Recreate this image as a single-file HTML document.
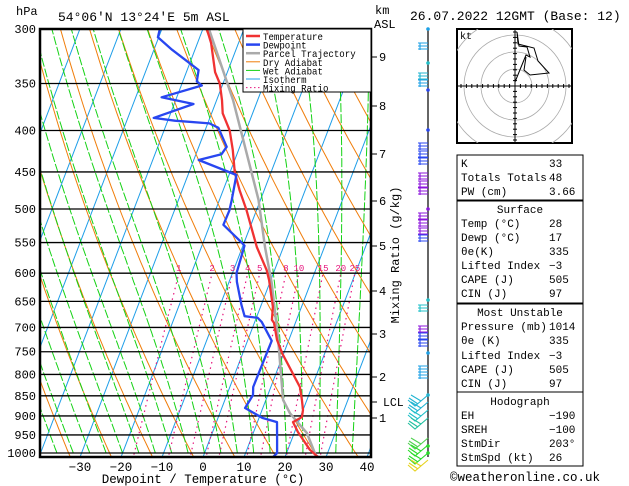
<!DOCTYPE html>
<html><head><meta charset="utf-8"><style>
html,body{margin:0;padding:0;background:#fff;}
svg{display:block;font-family:"Liberation Mono",monospace;}
</style></head><body>
<svg id="chart" width="629" height="486" viewBox="0 0 629 486">
<defs><clipPath id="plotclip"><rect x="40" y="29" width="331" height="428"/></clipPath></defs>
<g id="bg" clip-path="url(#plotclip)"></g>
<g id="plines"></g>
<g id="profiles" clip-path="url(#plotclip)"></g>
<rect x="40" y="29" width="331" height="428" fill="none" stroke="#000" stroke-width="2.5"/>
<text x="16" y="15" font-size="12">hPa</text>
<text x="58" y="21" font-size="13">54°06'N 13°24'E 5m ASL</text>
<text x="375" y="14" font-size="12">km</text>
<text x="374" y="28" font-size="12">ASL</text>
<text x="410" y="20" font-size="13">26.07.2022 12GMT (Base: 12)</text>
<text x="203" y="483" font-size="12.5" text-anchor="middle">Dewpoint / Temperature (°C)</text>
<text transform="translate(399,255) rotate(-90)" font-size="12" text-anchor="middle">Mixing Ratio (g/kg)</text>
<g id="axes"></g>
<g id="legend">
<rect x="243" y="29" width="128" height="63" fill="#fff" stroke="#000" stroke-width="1"/>
</g>
<g id="barbs"></g>
<g id="hodo"></g>
<g id="tables"></g>
<text x="450" y="481" font-size="12.5">©weatheronline.co.uk</text>
</svg>
<script>
// ---- data ----
const tempP = [300,312,339,350,367,381,400,423,451,474,502,557,595,612,660,685,691,725,753,829,860,885,903,916,942,991,1011];
const tempT = [-39.0,-36.7,-33.0,-30.8,-28.7,-27.3,-24.0,-21.4,-18.8,-16.0,-12.4,-6.5,-1.9,-0.4,3.0,4.0,4.8,7.1,9.6,17.1,18.8,20.0,20.4,18.7,20.8,25.4,28.0];
const dewP = [300,307,318,337,348,352,364,371,386,389,392,397,419,428,435,454,487,502,523,550,555,600,615,657,678,681,689,727,829,848,880,905,916,964,1000,1011];
const dewT = [-50.5,-50.2,-45.6,-37.2,-36.6,-35.0,-43.7,-35.3,-43.7,-38.3,-29.6,-27.0,-23.2,-23.8,-28.8,-18.2,-17.0,-16.6,-16.7,-10.6,-9.6,-9.0,-8.1,-4.8,-3.0,0.3,1.7,5.9,5.7,6.4,5.7,10.8,14.8,16.5,17.7,17.1];
const parcelP = [300,367,487,557,617,725,860,893,945,1000,1011];
const parcelT = [-38.5,-26.0,-10.5,-4.5,0.5,7.4,14.2,17.1,23.1,26.9,27.6];
const pressureTicks = [300,350,400,450,500,550,600,650,700,750,800,850,900,950,1000];
const tempTicks = [-30,-20,-10,0,10,20,30,40];
const kmTicks = [9,8,7,6,5,4,3,2,1];
const kmY = [57,106,154,201,246,291,334,377,418];
const mixRatios = [1,2,3,4,5,8,10,15,20,25];
const isotherms = [-120,-110,-100,-90,-80,-70,-60,-50,-40,-30,-20,-10,0,10,20,30,40];
const dryThetas = [240,250,260,270,280,290,300,310,320,330,340,350,360,370,380,390,400,410,420,430,440,450,460];
const wetStarts = [-40,-36,-32,-28,-24,-20,-16,-12,-8,-4,0,4,8,12,16,20,24,28,32,36];
const hodoU=[0,11,15,12,4,2,3,19,23,34,15,9,11];
const hodoV=[4,31,29,39,40,54,42,38,25,13,11,16,29];

// ---- axis functions ----
const NS='http://www.w3.org/2000/svg';
function yP(p){return 453 - 352*Math.log(1000/p);}
function xT(t,p){return 203 + 4.1*t + 0.383*(457 - yP(p));}
function mk(tag,attrs,parent){const e=document.createElementNS(NS,tag);for(const k in attrs)e.setAttribute(k,attrs[k]);parent.appendChild(e);return e;}
function pathFrom(pts){return pts.map((q,i)=>(i?'L':'M')+q[0].toFixed(1)+' '+q[1].toFixed(1)).join(' ');}
const bg=document.getElementById('bg');

isotherms.forEach(t=>{
  const e=mk('path',{d:pathFrom([[xT(t,1050),yP(1050)],[xT(t,280),yP(280)]]),stroke:'#1e9ee8','stroke-width':1,fill:'none'},bg);
  
  
});
dryThetas.forEach(th=>{
  const pts=[];for(let p=1050;p>=280;p-=10){const t=th*Math.pow(p/1000,0.286)-273.15;pts.push([xT(t,p),yP(p)]);}
  const e=mk('path',{d:pathFrom(pts),stroke:'#f07d0a','stroke-width':1,fill:'none'},bg);
  
  
});
function es(t){return 6.112*Math.exp(17.67*t/(t+243.5));}
wetStarts.forEach(t0=>{
  let T=t0+273.15;const pts=[];
  for(let p=1000;p>=280;p-=5){
    const t=T-273.15;pts.push([xT(t,p),yP(p)]);
    const e=es(t);const ws=0.622*e/(p-e);
    const num=287*T+2.5e6*ws;const den=1004+2.5e6*2.5e6*ws*0.622/(287*T*T);
    T-= (num/den)/p*5;
  }
  const e=mk('path',{d:pathFrom(pts),stroke:'#14d214','stroke-width':1,fill:'none','stroke-dasharray':'9 2'},bg);
  
  
});
mixRatios.forEach(w=>{
  const pts=[];for(let p=1020;p>=600;p-=10){const e=w*p/(622+w);const l=Math.log(e/6.112);const td=243.5*l/(17.67-l);pts.push([xT(td,p),yP(p)]);}
  const e=mk('path',{d:pathFrom(pts),stroke:'#e6147d','stroke-width':1.2,fill:'none','stroke-dasharray':'1.5 4'},bg);
  
  
  const e6=w*600/(622+w);const l=Math.log(e6/6.112);const td=243.5*l/(17.67-l);
  const lb=mk('text',{x:xT(td,600),y:271,'font-size':9,fill:'#e6147d','text-anchor':'middle'},bg);
  lb.textContent=w;
  
  
});
const pl=document.getElementById('plines');
pressureTicks.forEach(p=>{
  const y=yP(p);
  const l=mk('line',{x1:40,x2:371,y1:y,y2:y,stroke:'#000','stroke-width':1.3},pl);
  
  
  const t=mk('text',{x:36,y:y+4,'font-size':12,'text-anchor':'end'},pl);
  t.textContent=p;
  
  
});
const prof=document.getElementById('profiles');
function series(P,T,color,w,name){
  const e=mk('path',{d:pathFrom(P.map((p,i)=>[xT(T[i],p),yP(p)])),stroke:color,'stroke-width':w,fill:'none','stroke-linejoin':'round'},prof);
  
  
}
series(parcelP,parcelT,'#aaaaaa',2.5,'parcel-trajectory-line');
series(tempP,tempT,'#f03232',2.3,'temperature-line');
series(dewP,dewT,'#2846f0',2.3,'dewpoint-line');
const ax=document.getElementById('axes');
tempTicks.forEach(t=>{
  const x=203+4.1*t;
  const tx=mk('text',{x:x,y:471,'font-size':12.5,'text-anchor':'middle'},ax);
  tx.textContent=t<0?'\u2212'+(-t):t;
  
  
});
kmTicks.forEach((k,i)=>{
  const y=kmY[i];
  const l=mk('line',{x1:371,x2:377,y1:y,y2:y,stroke:'#000','stroke-width':1},ax);
  
  
  const t=mk('text',{x:379,y:y+4,'font-size':12},ax);
  t.textContent=k;
  
  
});
{const l=mk('line',{x1:371,x2:377,y1:402,y2:402,stroke:'#000'},ax);
 const t=mk('text',{x:383,y:406,'font-size':11.5},ax);t.textContent='LCL';}
const lg=document.getElementById('legend');
const legNames=['Temperature','Dewpoint','Parcel Trajectory','Dry Adiabat','Wet Adiabat','Isotherm','Mixing Ratio'];
const legColors=['#f03232','#2846f0','#aaaaaa','#f07d0a','#14d214','#1e9ee8','#e6147d'];
legNames.forEach((n,i)=>{
  const y=36+i*8.6;
  const l=mk('line',{x1:246,x2:260,y1:y,y2:y,stroke:legColors[i],'stroke-width':i<3?2.5:1,'stroke-dasharray':i==6?'1.5 2.5':'none'},lg);
  
  
  const t=mk('text',{x:263,y:y+4,'font-size':10.5,textLength:n.length*5.45,lengthAdjust:'spacingAndGlyphs'},lg);
  t.textContent=n;
  
  
});
const bb=document.getElementById('barbs');
{const l=mk('line',{x1:428,x2:428,y1:29,y2:457,stroke:'#000','stroke-width':1.2},bb);}
const barbY=[43,73,80,143,151,158,173,181,188,213,220,228,235,305,326,333,340,366,372,403,410,418,426,446,453,461,468];
const barbCol=['#1ca0e6','#20b4d2','#1ca0e6','#2846f0','#2846f0','#2846f0','#8c14dc','#8c14dc','#8c14dc','#8c14dc','#8c14dc','#8c14dc','#2846f0','#20c0c8','#8c14dc','#2846f0','#2846f0','#1ca0e6','#1ca0e6','#20b4d2','#20b4d2','#20c0c8','#20c0a0','#50d250','#28dc28','#28dc28','#e6d21e'];
barbY.forEach((y,i)=>{
  const c=barbCol[i];
  let d;
  if(y<380){d='M428 '+y+' L418 '+y+' M428 '+(y+3)+' L418 '+(y+3)+' M428 '+(y+6)+' L418 '+(y+6)+' M420 '+y+' L420 '+(y+7);}
  else{d='M428 '+(y-8)+' L415 '+(y+3)+' L408 '+(y-3)+' M421 '+(y-2)+' L411 '+(y-8)+' M418 '+(y+1)+' L409 '+(y-5);}
  const e=mk('path',{d:d,stroke:c,'stroke-width':1.1,fill:'none'},bb);
  
  
});
[29,63,90,130,209,300,353,395,446,453].forEach((y,i)=>{
  const e=mk('circle',{cx:428,cy:y,r:1.8,fill:['#1ca0e6','#20c0c8','#2846f0','#2846f0','#8c14dc','#20c0c8','#1ca0e6','#20b4d2','#28dc28','#28dc28'][i]},bb);
  
  
});
const hd=document.getElementById('hodo');
(function(){
  const cx=515,cy=86;
  mk('rect',{x:457,y:29,width:115,height:114,fill:'#fff',stroke:'#000','stroke-width':2},hd);
  const cp=mk('clipPath',{id:'hc'},hd);mk('rect',{x:457,y:29,width:115,height:114},cp);
  const g=mk('g',{'clip-path':'url(#hc)'},hd);
  [17,34,51,68].forEach(r=>{const c=mk('circle',{cx:cx,cy:cy,r:r,fill:'none',stroke:'#aaa','stroke-width':0.8},g);});
  mk('line',{x1:457,x2:572,y1:cy,y2:cy,stroke:'#000'},g);
  mk('line',{x1:cx,x2:cx,y1:29,y2:143,stroke:'#000'},g);
  for(let i=-10;i<=10;i++){mk('line',{x1:cx+i*5.4,x2:cx+i*5.4,y1:cy-2,y2:cy+2,stroke:'#000'},g);mk('line',{x1:cx-2,x2:cx+2,y1:cy+i*5.4,y2:cy+i*5.4,stroke:'#000'},g);}
  const tr=mk('path',{d:pathFrom(hodoU.map((u,i)=>[cx+u,cy-hodoV[i]])),stroke:'#000','stroke-width':1,fill:'none'},g);
  
  
  const kt=mk('text',{x:460,y:39,'font-size':10},hd);kt.textContent='kt';
  
  
})();
const tb=document.getElementById('tables');
const boxes=[[155,200],[201,303],[304,392],[392,466]];
boxes.forEach(b=>{const r=mk('rect',{x:457,y:b[0],width:126,height:b[1]-b[0],fill:'#fff',stroke:'#000','stroke-width':1},tb);});
const rows=[
 ['K','33',167],['Totals Totals','48',181],['PW (cm)','3.66',195],
 ['#Surface','',213],['Temp (°C)','28',227],['Dewp (°C)','17',241],['θe(K)','335',255],['Lifted Index','\u22123',269],['CAPE (J)','505',283],['CIN (J)','97',297],
 ['#Most Unstable','',316],['Pressure (mb)','1014',330],['θe (K)','335',344],['Lifted Index','\u22123',359],['CAPE (J)','505',373],['CIN (J)','97',387],
 ['#Hodograph','',405],['EH','\u2212190',419],['SREH','\u2212100',433],['StmDir','203°',447],['StmSpd (kt)','26',461]];
rows.forEach(r=>{
  if(r[0][0]=='#'){const t=mk('text',{x:520,y:r[2],'font-size':11,'text-anchor':'middle'},tb);t.textContent=r[0].slice(1);return;}
  const t=mk('text',{x:461,y:r[2],'font-size':11},tb);t.textContent=r[0];
  
  
  const v=mk('text',{x:549,y:r[2],'font-size':11},tb);v.textContent=r[1];
  
  
});
</script>
</body></html>
